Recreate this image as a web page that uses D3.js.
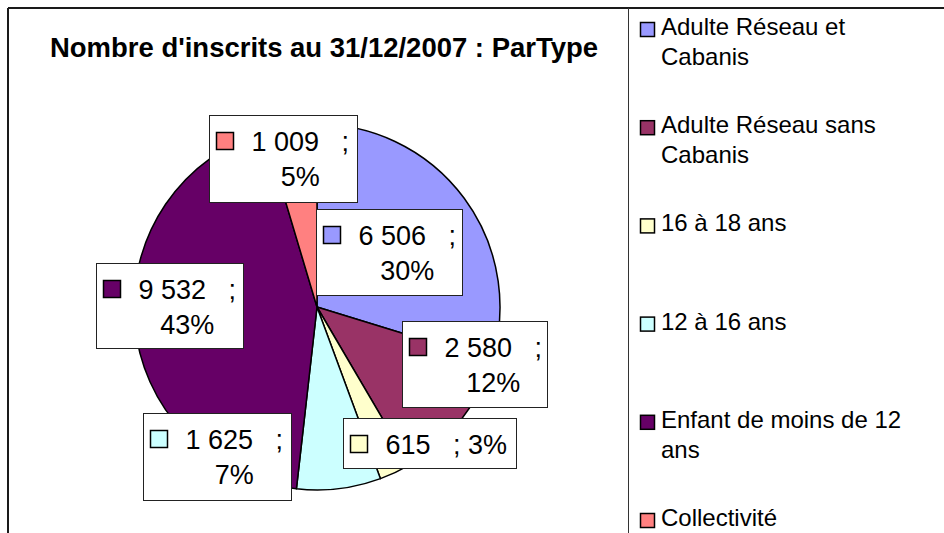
<!DOCTYPE html>
<html>
<head>
<meta charset="utf-8">
<script src="https://cdn.jsdelivr.net/npm/d3@7"></script>
<style>
	html, body { margin: 0; padding: 0; background: #fff; }
	svg { display: block; font-family: "Liberation Sans", Arial, sans-serif; }
</style>
</head>
<body>
<div id="chart"></div>
<script>
var categories = ["Adulte Réseau et Cabanis", "Adulte Réseau sans Cabanis", "16 à 18 ans", "12 à 16 ans", "Enfant de moins de 12 ans", "Collectivité"];
var values = [6506, 2580, 615, 1625, 9532, 1009];
var percentLabels = ["30%", "12%", "3%", "7%", "43%", "5%"];
var colors = ["#9999FF", "#993366", "#FFFFCC", "#CCFFFF", "#660066", "#FF8080"];
var title = "Nombre d'inscrits au 31/12/2007 : ParType";

// label box placement, relative to the pie centre
var labelLayout = [
	{dx: -1, dy: -98, w: 146, h: 86, oneLine: false},
	{dx: 85, dy: 14, w: 145, h: 86, oneLine: false},
	{dx: 26, dy: 111, w: 173, h: 50, oneLine: true},
	{dx: -174, dy: 106, w: 148, h: 87, oneLine: false},
	{dx: -221, dy: -44, w: 147, h: 85, oneLine: false},
	{dx: -108, dy: -192, w: 148, h: 87, oneLine: false}
];

var width = 944, height = 533;
var cx = 317, cy = 307, radius = 183;

var fmt = d3.formatLocale({decimal: ",", thousands: " ", grouping: [3], currency: ["", ""]}).format(",d");

var svg = d3.select("#chart")
	.append("svg")
	.attr("width", width)
	.attr("height", height);

// frame
svg.append("line")
	.attr("x1", 8).attr("y1", 8).attr("x2", width).attr("y2", 8)
	.attr("stroke", "#1a1a1a").attr("stroke-width", 2);
svg.append("line")
	.attr("x1", 8).attr("y1", 8).attr("x2", 8).attr("y2", height)
	.attr("stroke", "#1a1a1a").attr("stroke-width", 2);
svg.append("line")
	.attr("x1", 628.5).attr("y1", 8).attr("x2", 628.5).attr("y2", height)
	.attr("stroke", "#333").attr("stroke-width", 1);

svg.append("text")
	.attr("x", 324)
	.attr("y", 57)
	.attr("text-anchor", "middle")
	.style("font-size", "27px")
	.style("font-weight", "bold")
	.attr("textLength", 548)
	.attr("lengthAdjust", "spacingAndGlyphs")
	.text(title);

var pie = d3.pie().sort(null).value(function(d) { return d; });
var arc = d3.arc().innerRadius(0).outerRadius(radius);
var arcs = pie(values);

var g = svg.append("g").attr("transform", "translate(" + cx + "," + cy + ")");
g.selectAll("path")
	.data(arcs)
	.enter()
	.append("path")
	.attr("d", arc)
	.attr("fill", function(d, i) { return colors[i]; })
	.attr("stroke", "#000")
	.attr("stroke-width", 1.5)
	.attr("stroke-linejoin", "round");

// data labels
arcs.forEach(function(d, i) {
	var L = labelLayout[i];
	var bx = Math.round(cx + L.dx) + 0.5, by = Math.round(cy + L.dy) + 0.5;
	var lg = svg.append("g");
	lg.append("rect")
		.attr("x", bx).attr("y", by)
		.attr("width", L.w).attr("height", L.h)
		.attr("fill", "#fff")
		.attr("stroke", "#222")
		.attr("stroke-width", 1);
	lg.append("rect")
		.attr("x", bx + 7).attr("y", by + 17)
		.attr("width", 17).attr("height", 17)
		.attr("fill", colors[i])
		.attr("stroke", "#000")
		.attr("stroke-width", 1.5);
	var line1 = fmt(d.value) + "\u00a0\u00a0\u00a0;" + (L.oneLine ? "\u00a0" + percentLabels[i] : "");
	var t1 = lg.append("text")
		.attr("x", bx + 42)
		.attr("y", by + 35)
		.style("font-size", "27px")
		.style("fill", "#000")
		.text(line1);
	if (!L.oneLine) {
		var w1 = t1.node().getComputedTextLength();
		lg.append("text")
			.attr("x", bx + 42 + w1 / 2)
			.attr("y", by + 70)
			.attr("text-anchor", "middle")
			.style("font-size", "27px")
			.style("fill", "#000")
			.text(percentLabels[i]);
	}
});

// legend
var legendTop = 35, legendStep = 98.2, wrapWidth = 255;
categories.forEach(function(name, i) {
	var y = legendTop + i * legendStep;
	svg.append("rect")
		.attr("x", 640.5).attr("y", y - 12.5)
		.attr("width", 14).attr("height", 14)
		.attr("fill", colors[i])
		.attr("stroke", "#000")
		.attr("stroke-width", 1.5);
	var t = svg.append("text")
		.attr("x", 661)
		.attr("y", y)
		.style("font-size", "24px")
		.style("fill", "#000");
	var words = name.split(" "), line = [], lineNo = 0;
	var ts = t.append("tspan").attr("x", 661).attr("y", y);
	words.forEach(function(w) {
		line.push(w);
		ts.text(line.join(" "));
		if (ts.node().getComputedTextLength() > wrapWidth && line.length > 1) {
			line.pop();
			ts.text(line.join(" "));
			line = [w];
			lineNo++;
			ts = t.append("tspan").attr("x", 661).attr("y", y + lineNo * 30).text(w);
		}
	});
});
</script>
</body>
</html>
